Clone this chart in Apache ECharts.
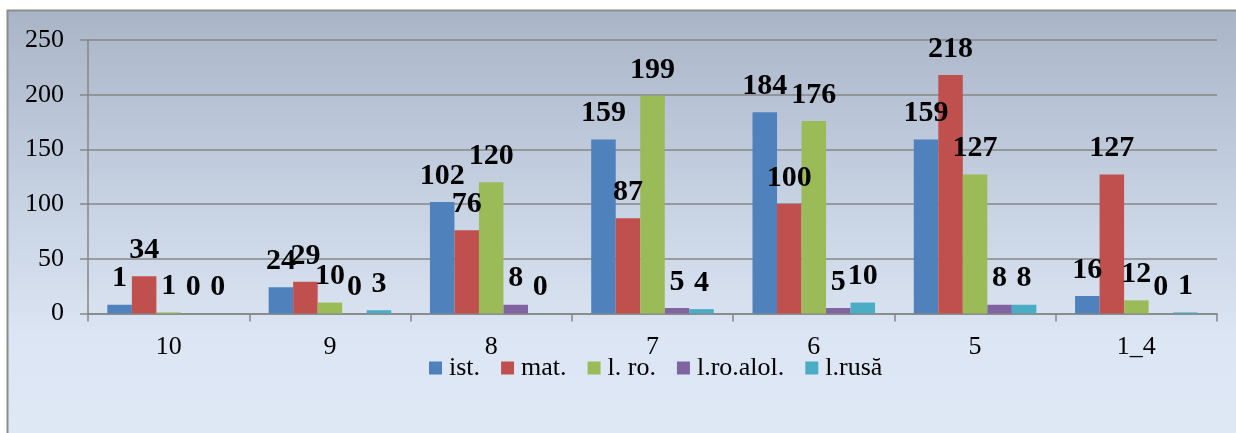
<!DOCTYPE html>
<html>
<head>
<meta charset="utf-8">
<script src="https://cdn.jsdelivr.net/npm/echarts@6/dist/echarts.min.js"></script>
<style>html,body{margin:0;padding:0;background:#fff}#c{width:1236px;height:433px}</style>
</head>
<body>
<div id="c"></div>
<script>
const categories = ['10', '9', '8', '7', '6', '5', '1_4'];
const seriesNames = ['ist.', 'mat.', 'l. ro.', 'l.ro.alol.', 'l.rusă'];
const ist = [8, 24, 102, 159, 184, 159, 16];
const istLabels = ['1', '24', '102', '159', '184', '159', '16'];
const mat = [34, 29, 76, 87, 100, 218, 127];
const lro = [1, 10, 120, 199, 176, 127, 12];
const lroAlol = [0, 0, 8, 5, 5, 8, 0];
const lrusa = [0, 3, 0, 4, 10, 8, 1];
const yTicks = [0, 50, 100, 150, 200, 250];

const colors = ['#4f81bd', '#c0504d', '#9bbb59', '#8064a2', '#4bacc6'];
const values = [ist, mat, lro, lroAlol, lrusa];
const labelSets = [istLabels, null, null, null, null];

const chart = echarts.init(document.getElementById('c'));
const serif = 'Liberation Serif';

chart.setOption({
  backgroundColor: '#ffffff',
  animation: false,
  color: colors,
  graphic: [{
    type: 'rect',
    z: -10,
    shape: { x: 7.5, y: 10.5, width: 1300, height: 500 },
    style: {
      fill: new echarts.graphic.LinearGradient(0, 0, 0, 1, [
        { offset: 0, color: '#a9b4c7' },
        { offset: 0.35, color: '#c4cfe0' },
        { offset: 0.65, color: '#dbe5f3' },
        { offset: 1, color: '#e2ecf8' }
      ]),
      stroke: '#8c8c8c',
      lineWidth: 2
    }
  }],
  grid: { left: 88, right: 19, top: 40, bottom: 119.5, containLabel: false },
  legend: {
    data: seriesNames,
    left: 424,
    top: 350,
    itemWidth: 13,
    itemHeight: 13,
    itemGap: 21,
    icon: 'rect',
    textStyle: { fontFamily: serif, fontSize: 26, color: '#000', padding: [0, 0, 0, 2] }
  },
  xAxis: {
    type: 'category',
    data: categories,
    axisLine: { lineStyle: { color: '#868686', width: 1.5 } },
    axisTick: { show: true, length: 8, lineStyle: { color: '#868686', width: 1.5 } },
    axisLabel: { fontFamily: serif, fontSize: 26, color: '#000', margin: 21 }
  },
  yAxis: {
    type: 'value',
    min: yTicks[0],
    max: yTicks[yTicks.length - 1],
    interval: 50,
    axisLine: { show: true, lineStyle: { color: '#868686', width: 1.5 } },
    axisTick: { show: true, length: 8, lineStyle: { color: '#868686', width: 1.5 } },
    splitLine: { lineStyle: { color: '#868686', width: 1.5 } },
    axisLabel: { fontFamily: serif, fontSize: 26, color: '#000', margin: 24 }
  },
  series: seriesNames.map((name, i) => ({
    name: name,
    type: 'bar',
    data: values[i],
    barGap: '0%',
    barCategoryGap: '24%',
    label: {
      show: true,
      position: 'top',
      distance: 11,
      fontFamily: serif,
      fontWeight: 'bold',
      fontSize: 30,
      color: '#000',
      formatter: p => labelSets[i] ? labelSets[i][p.dataIndex] : String(p.value)
    }
  }))
});
</script>
</body>
</html>
